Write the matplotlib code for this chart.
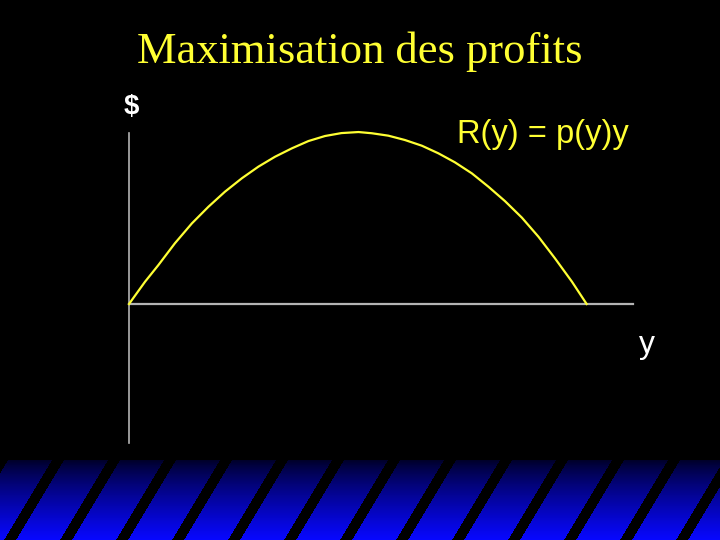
import matplotlib
matplotlib.use("Agg")
import matplotlib.pyplot as plt
import numpy as np

# --- données (quantité y, recette R) ---
quantite = [0.0, 0.35, 0.64, 1.00, 1.37, 1.73, 2.09, 2.46, 2.82, 3.18,
            3.55, 3.91, 4.27, 4.63, 5.00, 5.29, 5.65, 6.01, 6.38, 6.74,
            7.10, 7.47, 7.83, 8.19, 8.56, 8.92, 9.28, 9.65, 9.97]
recette = [0.0, 1.29, 2.25, 3.51, 4.66, 5.62, 6.49, 7.27, 7.94, 8.51,
           9.00, 9.42, 9.71, 9.88, 9.94, 9.87, 9.73, 9.48, 9.15, 8.71,
           8.19, 7.55, 6.78, 5.95, 4.99, 3.89, 2.64, 1.29, 0.0]

titre = "Maximisation des profits"
label_courbe = "R(y) = p(y)y"
label_axe_y = "$"
label_axe_x = "y"

JAUNE = "#ffff33"
GRIS = "#b4b4b4"

fig = plt.figure(figsize=(7.2, 5.4), dpi=100, facecolor="black")

# axe principal : une unité de quantité ~ 45.9 px, une unité de recette ~ 17.3 px
ax = fig.add_axes([0, 0, 1, 1])
ax.set_facecolor("black")
ax.set_xlim(-129 / 45.9, (720 - 129) / 45.9)
ax.set_ylim(-(540 - 304) / 17.3, 304 / 17.3)
ax.axis("off")

# axes du graphique
ax.plot([0, 0], [(304 - 133) / 17.3, -(443 - 304) / 17.3], color=GRIS, lw=1.2)
ax.plot([0, (633 - 129) / 45.9], [0, 0], color=GRIS, lw=1.6)

# courbe de recette
ax.plot(quantite, recette, color=JAUNE, lw=1.6, solid_joinstyle="round")

# textes
fig.text(360 / 720, 1 - 52 / 540, titre, color=JAUNE, fontsize=32,
         family="Liberation Serif", ha="center", va="center")
fig.text(131 / 720, 1 - 107 / 540, label_axe_y, color="white", fontsize=20,
         family="Liberation Sans", weight="bold", ha="center", va="center")
fig.text(457 / 720, 1 - 135 / 540, label_courbe, color=JAUNE, fontsize=23.5,
         family="Liberation Sans", ha="left", va="center")
fig.text(647 / 720, 1 - 345 / 540, label_axe_x, color="white", fontsize=23,
         family="Liberation Sans", ha="center", va="center")

# bande décorative en bas : dégradé bleu avec rayures noires obliques
haut_bande = 458
h = 540 - haut_bande
lignes = np.arange(h)[:, None]
cols = np.arange(720)[None, :]
depuis_bas = (h - 1) - lignes
rayure = ((cols - 4 - depuis_bas * 0.6) % 56) < 12
t = (lignes / (h - 1)) ** 0.8
img = np.zeros((h, 720, 3))
img[..., 0] = 0.03 * t
img[..., 1] = 0.03 * t
img[..., 2] = 0.12 + 0.88 * t
img[rayure] = 0
img[:2] = 0

ax_bande = fig.add_axes([0, 0, 1, h / 540])
ax_bande.imshow(img, aspect="auto", interpolation="bilinear")
ax_bande.axis("off")

fig.savefig("out.png", dpi=100, facecolor="black")
